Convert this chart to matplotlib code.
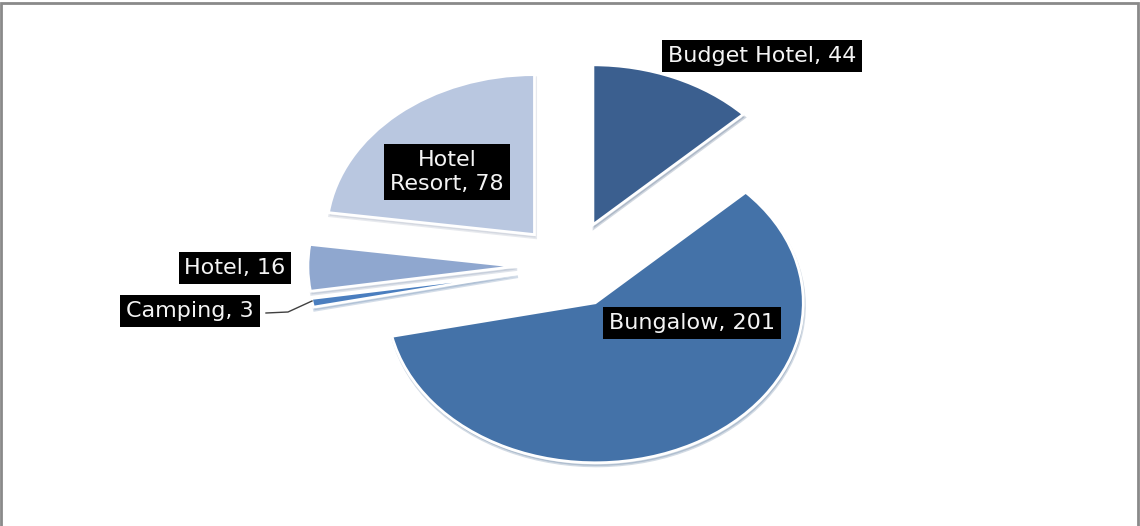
import matplotlib
matplotlib.use("Agg")
from matplotlib import pyplot as plt
from matplotlib.patches import Rectangle

# data
categories = ["Budget Hotel", "Bungalow", "Camping", "Hotel", "Hotel Resort"]
values = [44, 201, 3, 16, 78]
colors = ["#3b5f8f", "#4472a8", "#4a7ebf", "#8fa7cf", "#b9c7e0"]
explode = [0.28, 0.26, 0.26, 0.26, 0.26]

# label box centres in pixels (x from left, y from top)
label_px = [(762, 56), (692, 323), (190, 311), (235, 268), (447, 172)]
label_txt = ["Budget Hotel, 44", "Bungalow, 201", "Camping, 3", "Hotel, 16", "Hotel\nResort, 78"]

W, H = 1140, 526
cx, cy, rx, ry = 570, 266, 208, 160


def to_data(px, py):
    return (px - cx) / rx, (cy - py) / ry


def main():
    plt.rcParams['font.family'] = ['DejaVu Sans']
    fig = plt.figure(figsize=(W / 100, H / 100), dpi=100)
    ax = fig.add_axes([0, 0, 1, 1])
    wedges, _ = ax.pie(values, colors=colors, explode=explode, startangle=90,
                       counterclock=False, radius=1.0,
                       wedgeprops=dict(edgecolor="white", linewidth=2.0),
                       shadow=dict(ox=0.004, oy=-0.014, shade=0.2, alpha=0.22))
    ax.set_aspect('auto')
    ax.set_xlim(-cx / rx, (W - cx) / rx)
    ax.set_ylim((cy - H) / ry, cy / ry)
    ax.axis('off')

    for (px, py), t in zip(label_px, label_txt):
        x, y = to_data(px, py)
        ax.text(x, y, t, color="#f4f4f4", fontsize=16, ha="center", va="center",
                linespacing=1.3,
                bbox=dict(boxstyle="square,pad=0.26", fc="black", ec="none"))

    # leader line for Camping
    lx, ly = zip(*[to_data(*p) for p in [(266, 313), (288, 312), (312, 301)]])
    ax.plot(lx, ly, color="#404040", lw=1.0)

    fig.patches.append(Rectangle((1 / W, -0.05), (W - 3) / W, 1.0 - 3 / H + 0.05,
                                 transform=fig.transFigure, fill=False,
                                 ec="#8a8a8a", lw=2))
    fig.savefig("out.png", dpi=100)


if __name__ == "__main__":
    main()
